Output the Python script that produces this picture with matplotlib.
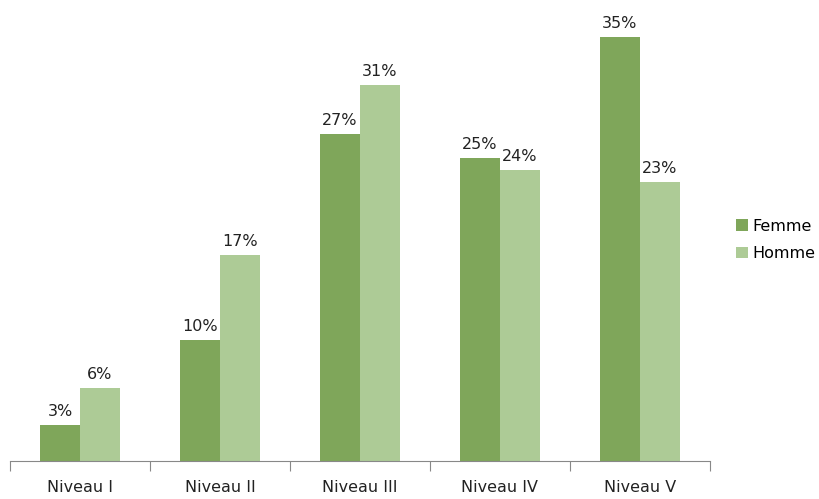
import matplotlib.pyplot as plt
import numpy as np

categories = ['Niveau I', 'Niveau II', 'Niveau III', 'Niveau IV', 'Niveau V']
femme = [3, 10, 27, 25, 35]
homme = [6, 17, 31, 24, 23]

c_femme = '#7fa65a'
c_homme = '#adcb96'

fig = plt.figure(figsize=(8.19, 4.99), dpi=100)
ax = fig.add_axes([10/819, 38/499, 700/819, 424/499])

x = np.arange(len(categories))
w = 40/140
b1 = ax.bar(x - w/2, femme, w, color=c_femme, label='Femme')
b2 = ax.bar(x + w/2, homme, w, color=c_homme, label='Homme')

for bars, vals in [(b1, femme), (b2, homme)]:
    for r, v in zip(bars, vals):
        ax.text(r.get_x() + r.get_width()/2, v + 0.5, f'{v}%', ha='center', va='bottom',
                fontsize=11.5, color='#222222', clip_on=False)

ax.set_xlim(-0.5, len(categories) - 0.5)
ax.set_ylim(0, 35)
ax.set_xticks(np.arange(len(categories) + 1) - 0.5)
ax.set_xticklabels([])
ax.set_xticks(x, minor=True)
ax.set_xticklabels(categories, minor=True, fontsize=11.5, color='#222222')
ax.tick_params(axis='x', which='major', length=7, color='#888888', direction='out')
ax.tick_params(axis='x', which='minor', length=0, pad=14)
ax.set_yticks([])
for s in ['top', 'right', 'left']:
    ax.spines[s].set_visible(False)
ax.spines['bottom'].set_color('#888888')

fig.legend(loc='center left', bbox_to_anchor=(722/819, 1 - 240/499), frameon=False,
           fontsize=11.5, handlelength=0.7, handleheight=0.7, handletextpad=0.3,
           labelspacing=0.8)

fig.savefig('out.png', dpi=100)
